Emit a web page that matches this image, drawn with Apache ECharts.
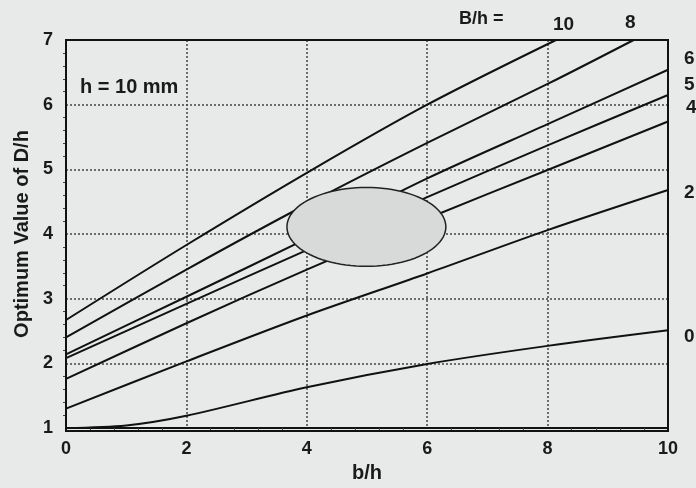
<!DOCTYPE html>
<html>
<head>
<meta charset="utf-8">
<script src="https://cdn.jsdelivr.net/npm/echarts@6/dist/echarts.min.js"></script>
<style>
html,body{margin:0;padding:0;background:#e8eae9;}
#c{width:696px;height:488px;}
</style>
</head>
<body>
<div id="c"></div>
<script>
// Curves of optimum D/h vs b/h for several B/h values
const seriesNames = ['10', '8', '6', '5', '4', '2', '0'];
const curve10 = [[0, 2.67], [2, 3.83], [4.1, 5.0], [6.0, 6.0], [8.14, 7.0]];
const curve8  = [[0, 2.40], [2, 3.45], [4, 4.46], [6, 5.41], [8, 6.32], [9.43, 7.0]];
const curve6  = [[0, 2.14], [2, 3.03], [4, 3.93], [6, 4.86], [8, 5.70], [10, 6.54]];
const curve5  = [[0, 2.08], [2, 2.92], [4, 3.75], [6, 4.57], [8, 5.37], [10, 6.15]];
const curve4  = [[0, 1.76], [2, 2.62], [4, 3.45], [6, 4.24], [8, 4.99], [10, 5.74]];
const curve2  = [[0, 1.30], [2, 2.03], [4, 2.74], [6, 3.39], [8, 4.06], [10, 4.68]];
const curve0  = [[0, 1.0], [1, 1.04], [2, 1.19], [4, 1.63], [6, 1.99], [8, 2.27], [10, 2.51]];
const curves = [curve10, curve8, curve6, curve5, curve4, curve2, curve0];
// Optimum region ellipse: center x, center y, radius x, radius y (data units)
const ellipse = [4.99, 4.11, 1.32, 0.61];
const xTicks = [0, 2, 4, 6, 8, 10];
const yTicks = [1, 2, 3, 4, 5, 6, 7];

const FONT = '"Liberation Sans", Arial, sans-serif';
const chart = echarts.init(document.getElementById('c'));

const lineSeries = curves.map((d, i) => ({
  name: 'B/h=' + seriesNames[i],
  type: 'line',
  data: d,
  smooth: 0.3,
  symbol: 'none',
  lineStyle: { color: '#111', width: 2 },
  z: 3
}));

const ellipseSeries = {
  type: 'custom',
  data: [ellipse],
  z: 5,
  renderItem: function (params, api) {
    const cx = api.value(0), cy = api.value(1), rx = api.value(2), ry = api.value(3);
    const pts = [];
    for (let k = 0; k < 96; k++) {
      const t = k / 96 * Math.PI * 2;
      pts.push(api.coord([cx + rx * Math.cos(t), cy + ry * Math.sin(t)]));
    }
    return {
      type: 'polygon',
      shape: { points: pts },
      style: { fill: '#d8dad9', stroke: '#222', lineWidth: 1.5 }
    };
  }
};

const txt = (left, top, text, size) => ({
  type: 'text', left: left, top: top,
  style: { text: text, font: 'bold ' + size + 'px ' + FONT, fill: '#1a1a1a' }
});

chart.setOption({
  backgroundColor: '#e8eae9',
  animation: false,
  grid: { left: 66, top: 40, right: 28, bottom: 57 },
  xAxis: {
    type: 'value', min: 0, max: 10, interval: 2,
    name: 'b/h', nameLocation: 'middle', nameGap: 35,
    nameTextStyle: { fontFamily: FONT, fontWeight: 'bold', fontSize: 20, color: '#1a1a1a' },
    axisLine: { show: true, lineStyle: { color: '#111', width: 2 } },
    axisTick: { show: false },
    minorTick: { show: true, splitNumber: 5, length: 3, lineStyle: { color: '#444', width: 1 } },
    axisLabel: { fontFamily: FONT, fontWeight: 'bold', fontSize: 18, color: '#1a1a1a', margin: 12,
      formatter: v => xTicks.includes(v) ? String(v) : '' },
    splitLine: { show: true, lineStyle: { color: '#444', width: 1.5, type: [2, 2] } }
  },
  yAxis: {
    type: 'value', min: 1, max: 7, interval: 1,
    name: 'Optimum Value of D/h', nameLocation: 'middle', nameGap: 33,
    nameTextStyle: { fontFamily: FONT, fontWeight: 'bold', fontSize: 20, color: '#1a1a1a' },
    axisLine: { show: true, lineStyle: { color: '#111', width: 2 } },
    axisTick: { show: false },
    minorTick: { show: true, splitNumber: 5, length: 3, lineStyle: { color: '#444', width: 1 } },
    axisLabel: { fontFamily: FONT, fontWeight: 'bold', fontSize: 18, color: '#1a1a1a', margin: 13,
      formatter: v => yTicks.includes(v) ? String(v) : '' },
    splitLine: { show: true, lineStyle: { color: '#444', width: 1.5, type: [2, 2] } }
  },
  series: lineSeries.concat([ellipseSeries]),
  graphic: [
    { type: 'rect', shape: { x: 66, y: 40, width: 602, height: 391 }, style: { fill: 'none', stroke: '#111', lineWidth: 2 }, z: 10, silent: true },
    txt(80, 77, 'h = 10 mm', 20),
    txt(459, 10, 'B/h =', 18),
    txt(553, 15, '10', 19),
    txt(625, 13, '8', 19),
    txt(684, 49, '6', 19),
    txt(684, 75, '5', 19),
    txt(686, 98, '4', 19),
    txt(684, 183, '2', 19),
    txt(684, 327, '0', 19)
  ]
});
</script>
</body>
</html>
